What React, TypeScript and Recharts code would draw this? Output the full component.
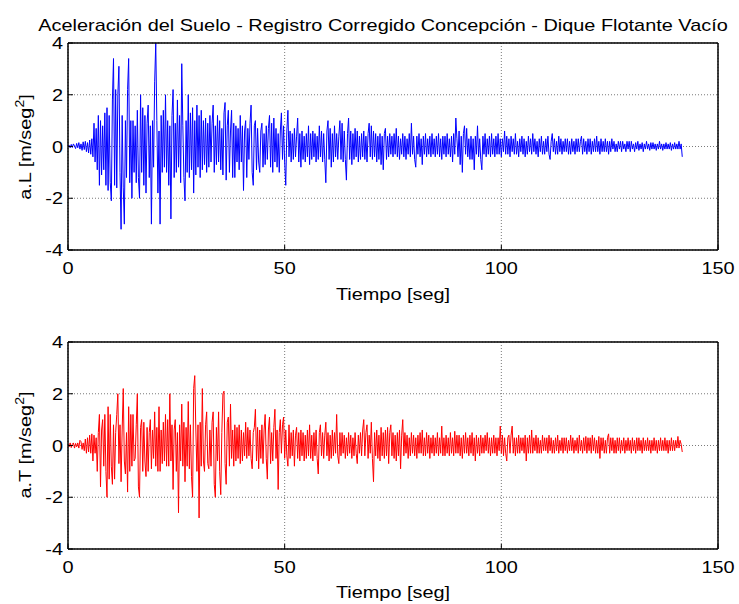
import React from 'react';
import { LineChart, Line, XAxis, YAxis, CartesianGrid } from 'recharts';

// sample step of the digitised record [s]
const DT = 0.25;
const X_TICKS = [0, 50, 100, 150];
const Y_TICKS = [-4, -2, 0, 2, 4];

// longitudinal ground acceleration [m/seg2], one row = 5 s
const accelL = [
  0, 0.05, -0.05, 0.08, -0.04, 0.1, 0.02, -0.08, 0.12, -0.05, 0.15, -0.1, 0.1, -0.15, 0.18, -0.12, 0.2, -0.2, 0.15, -0.25,
  0.25, -0.3, 0.3, -0.4, 0.9, -0.6, 0.7, -0.9, 1.2, -1.5, 1.0, -1.1, 0.8, -0.9, 1.3, -1.5, 1.5, -1.7, 1.2, -1.4,
  -2.1, 1.8, 3.4, -1.5, 2.2, -1.6, 2.0, 3.1, -1.0, -3.2, 1.2, -1.6, -3.0, 1.0, -1.2, 2.2, 3.4, -1.4, 1.0, -2.0,
  1.0, -1.0, 0.8, -1.4, 1.4, -1.2, -2.0, 2.0, -1.0, 1.5, -1.5, 1.2, -1.8, 0.9, 1.6, -1.2, 0.8, -3.0, 1.0, -0.8,
  2.5, 4.0, 1.0, -1.8, 0.6, -3.0, 1.2, -1.0, 1.4, -0.8, 2.0, -1.0, 1.0, -1.5, 0.8, -2.8, 1.2, 2.2, -1.2, 0.9,
  -1.0, 1.8, -0.8, 1.2, -1.4, 3.2, 0.8, -1.2, -2.1, 1.0, -1.0, 2.0, -1.2, 1.3, -0.9, 1.5, -1.8, 1.0, -1.1, 1.6,
  -0.8, 1.2, -1.2, 1.4, -0.9, 1.0, -0.7, 1.1, -1.0, 0.9, -0.8, 1.2, -0.6, 0.9, 1.6, -1.0, 0.8, -0.7, 1.2, -0.6,
  1.0, -0.9, 0.7, -1.1, 1.3, 1.7, -1.3, 0.8, 1.4, -1.0, 0.6, 1.4, -1.2, 0.9, -1.2, 0.8, -0.6, 0.7, -0.9, 1.2,
  -0.6, 0.8, -1.7, 0.6, 1.0, -1.2, 0.7, -0.5, 0.9, 1.6, -1.0, -1.5, 0.8, 1.0, -0.9, 0.7, -0.6, -1.0, 0.6, 0.9,
  -0.8, 0.5, -0.7, 0.8, -0.5, 0.7, 1.2, -0.8, 0.9, -1.0, 1.1, -0.6, 0.7, -0.8, 0.5, -1.0, 0.6, 1.3, -0.5, 0.8,
  -0.6, -1.5, 0.6, 1.4, -0.4, 0.6, -0.6, 0.5, -0.5, 0.7, -0.4, 0.4, 1.1, -0.6, 0.5, -0.8, 0.6, -0.5, 0.4, -0.6,
  0.5, -0.4, 0.8, -0.7, 0.5, -0.5, 0.6, -0.4, 0.5, -0.6, 0.4, -0.5, 0.8, -0.4, 0.6, -0.6, 0.5, -0.5, -1.4, 0.6,
  1.0, -0.5, 0.7, -0.8, 0.5, -0.6, 0.8, -0.4, 0.5, -0.5, 0.4, 1.0, -0.5, 0.9, -0.6, 0.6, -0.5, -1.3, 0.5, 1.1,
  -0.5, 0.6, -0.7, 0.5, -0.5, 0.7, -0.4, 0.6, -0.6, 0.4, -0.5, 0.5, -0.4, 0.6, -0.5, 0.4, -0.6, 0.5, 0.9, -0.4,
  0.8, -0.5, 0.6, -0.4, 0.5, -0.6, 0.4, -0.5, 0.5, -0.7, 0.4, -0.9, 0.5, 0.7, -0.5, 0.4, -0.4, 0.5, -0.3, 0.4,
  -0.4, 0.5, -0.3, 0.7, -0.4, 0.4, -0.5, 0.3, -0.3, 0.5, -0.4, 0.4, -0.5, 0.3, -0.3, 0.5, -0.4, 0.9, -0.3, 0.4,
  -0.5, -0.8, 0.4, -0.3, 0.5, -0.4, 0.3, -0.7, 0.4, -0.3, 0.5, -0.4, 0.3, -0.3, 0.4, -0.4, 0.5, -0.3, 0.3, -0.4,
  0.4, -0.3, 0.5, -0.4, 0.3, -0.5, 0.4, -0.3, 0.4, -0.4, 0.5, -0.3, 0.3, -0.4, 0.4, -0.6, 0.5, -0.3, 1.1, 0.3,
  -0.4, 0.6, -0.7, 0.4, -1.0, 0.5, 0.8, -0.3, 0.7, -0.4, 0.3, -0.5, 0.4, -0.5, 0.3, -0.9, 0.4, -0.3, 0.8, -0.4,
  0.3, -0.5, -0.9, 0.4, -0.3, 0.5, -0.4, 0.3, -0.3, 0.4, -0.4, 0.5, -0.3, 0.3, -0.4, 0.4, -0.3, 0.5, -0.3, 0.3,
  -0.4, 0.3, -0.2, 0.6, -0.3, 0.4, -0.3, 0.3, -0.4, 0.4, -0.2, 0.3, -0.3, 0.5, -0.3, 0.2, -0.4, 0.3, -0.2, 0.4,
  -0.3, 0.3, -0.4, 0.2, -0.3, 0.4, -0.2, 0.3, -0.3, 0.5, -0.2, 0.3, -0.3, 0.2, -0.4, 0.3, -0.2, 0.4, -0.3, 0.2,
  -0.3, 0.3, -0.2, 0.4, -0.3, -0.5, 0.2, 0.5, -0.2, 0.3, -0.3, 0.2, -0.3, 0.4, -0.2, 0.3, -0.3, 0.2, -0.2, 0.3,
  -0.2, 0.3, -0.3, 0.2, -0.3, 0.3, -0.2, 0.2, -0.3, 0.3, -0.2, 0.3, -0.2, 0.2, 0.4, -0.3, 0.3, -0.2, 0.2, -0.3,
  0.3, -0.2, 0.3, -0.3, 0.2, -0.2, 0.3, -0.2, 0.4, -0.2, 0.2, -0.3, 0.3, -0.2, 0.2, -0.2, 0.3, -0.2, 0.2, -0.3,
  0.2, -0.2, 0.3, -0.1, 0.2, -0.2, 0.1, -0.2, 0.2, -0.1, 0.2, -0.2, 0.2, -0.1, 0.1, -0.2, 0.2, -0.1, 0.2, -0.2,
  0.2, -0.1, 0.1, -0.2, 0.15, -0.1, 0.2, -0.15, 0.1, -0.1, 0.15, -0.2, 0.1, -0.1, 0.2, -0.1, 0.1, -0.15, 0.15, -0.1,
  0.15, -0.1, 0.1, -0.15, 0.1, -0.1, 0.2, -0.1, 0.1, -0.15, 0.1, -0.1, 0.15, -0.1, 0.1, -0.1, 0.15, -0.15, 0.1, -0.1,
  0.15, -0.1, 0.1, -0.1, 0.2, -0.1, 0.1, -0.4,
];

// transverse ground acceleration [m/seg2], one row = 5 s
const accelT = [
  0.05, -0.05, 0.1, -0.08, 0.05, 0.1, -0.1, 0.08, -0.05, 0.1, -0.1, 0.2, 0.15, -0.15, 0.1, -0.2, 0.25, -0.3, 0.3, -0.25,
  0.4, -0.3, 0.45, -0.6, 0.4, -0.3, 0.3, -1.0, 0.5, 1.2, -1.6, 0.6, 1.0, -0.8, 1.2, -1.0, -2.0, 1.5, -1.3, 1.2,
  -0.8, -1.5, 0.8, -1.3, 0.5, 1.2, 2.0, -0.7, 0.8, -1.4, 0.6, 2.2, -0.6, -1.1, 0.5, -1.8, 1.5, -1.0, 1.2, -0.8,
  1.2, -0.6, -0.5, 0.8, 2.0, -1.6, -2.0, 0.7, 1.0, -1.0, 0.9, -0.6, -1.2, 0.7, -1.0, 0.5, 1.0, -0.9, 0.6, -0.5,
  1.3, -0.8, 0.7, -1.0, 1.5, -1.0, 0.6, -0.7, 0.9, -0.6, 1.2, -0.8, 1.0, -0.8, 2.0, -0.6, 0.8, -1.7, 0.6, 1.0,
  -1.0, 0.5, -2.6, 0.8, -0.6, 1.6, -0.8, 0.9, -1.4, 0.7, -0.8, 1.7, -0.9, 0.8, -1.2, -2.0, 2.2, 2.7, 0.6, -1.0,
  0.8, -2.8, 0.9, -0.8, 2.2, -0.6, -1.0, 0.8, 1.3, -0.7, -0.9, 0.6, -0.8, 0.9, 1.3, -1.5, -2.0, 0.7, -0.6, 1.3,
  -1.0, -1.9, 0.5, 2.0, 2.1, -0.7, -1.5, 0.9, 1.1, -0.8, 1.6, -0.5, 0.6, -0.8, 0.8, -0.6, 0.7, -0.5, 0.8, -0.7,
  0.6, -0.6, 0.5, -0.4, 0.9, -0.5, 0.7, -0.4, 0.6, -0.5, -0.9, 0.5, 0.7, 1.4, -0.6, 0.7, -0.9, 0.6, -0.5, 0.8,
  -0.7, 0.6, 1.2, -0.5, -1.3, 0.6, 1.1, -0.7, 0.5, -0.6, 0.7, 1.4, -0.5, 0.6, -1.7, 0.5, 1.0, -0.3, 0.8, 1.1,
  -0.5, 0.6, -0.4, -0.8, 0.8, -0.5, 0.5, -0.4, 0.6, -0.8, 0.4, 0.7, -0.5, 0.5, -0.6, 0.6, -0.4, 0.5, -0.6, 0.4,
  -0.5, 0.6, -0.4, 0.8, -0.5, 0.4, -0.6, 0.5, -0.4, 0.6, -0.5, -1.1, 0.5, 0.8, -0.4, 0.5, -0.5, 0.4, 0.9, -0.4,
  0.5, -0.6, 0.4, -0.5, 0.6, -0.4, 0.5, -0.3, 1.2, -0.4, -0.7, 0.5, -0.4, 0.5, -0.3, 0.4, -0.5, 0.3, -0.4, 0.5,
  -0.3, 0.4, -0.5, 0.3, -0.4, 0.5, -0.3, -0.7, 0.4, -0.3, 0.5, -0.4, 0.6, 1.0, -0.4, 0.5, 0.8, -0.5, 0.4, -0.3,
  0.9, -0.5, -1.4, 0.5, -0.4, 0.6, -0.5, 0.4, -0.6, 0.7, -0.4, 0.5, -0.5, 0.6, -0.4, 0.7, -0.7, 0.5, 0.8, -0.4,
  0.5, -0.5, 0.4, -0.6, 0.5, -0.4, 0.6, -0.9, 0.4, 1.0, -0.4, 0.5, -0.3, 0.4, -0.5, 0.3, -0.4, 0.5, -0.3, 0.4,
  -0.4, 0.3, -0.5, 0.4, -0.3, 0.5, -0.3, 0.6, -0.4, 0.3, -0.4, 0.5, -0.3, 0.4, -0.5, 0.3, -0.3, 0.4, -0.4, 0.3,
  -0.3, 0.5, -0.4, 0.3, -0.3, 0.75, -0.4, 0.3, -0.4, 0.4, -0.3, 0.3, -0.4, 0.5, -0.3, 0.3, -0.4, 0.55, -0.3, 0.4,
  -0.3, 0.4, -0.4, 0.3, -0.5, 0.4, -0.3, 0.5, -0.3, 0.3, -0.4, 0.4, -0.3, 0.5, -0.4, 0.3, -0.6, 0.4, -0.3, 0.3,
  -0.4, 0.4, -0.3, 0.3, -0.3, 0.4, -0.2, 0.5, -0.3, 0.3, -0.4, 0.3, -0.3, 0.4, -0.3, 0.3, -0.4, 0.3, -0.2, 0.75,
  -0.3, 0.4, -0.4, 0.3, -0.3, -0.6, 0.3, 0.4, -0.3, 0.4, 0.75, -0.3, 0.3, -0.4, 0.3, -0.3, 0.4, -0.3, 0.3, -0.2,
  0.3, -0.3, 0.4, -0.6, 0.3, -0.3, 0.4, -0.3, 0.6, -0.3, 0.3, -0.2, 0.4, -0.3, 0.3, -0.3, 0.2, -0.3, 0.4, -0.2,
  0.3, -0.2, 0.3, -0.3, 0.4, -0.2, 0.3, -0.3, 0.2, -0.3, 0.3, -0.2, 0.4, -0.3, 0.2, -0.2, 0.3, -0.3, 0.3, -0.2,
  0.3, -0.3, 0.2, -0.2, 0.4, -0.2, 0.3, -0.3, 0.2, -0.2, 0.3, -0.3, 0.4, -0.2, 0.2, -0.3, 0.3, -0.2, 0.35, -0.3,
  0.3, -0.2, 0.3, -0.3, 0.4, -0.2, 0.3, -0.3, 0.2, -0.3, 0.35, -0.5, 0.3, -0.2, 0.3, -0.3, 0.2, -0.3, 0.3, 0.45,
  -0.3, 0.3, -0.2, 0.3, -0.3, 0.2, -0.3, 0.3, -0.2, 0.3, -0.3, 0.2, -0.2, 0.3, -0.3, 0.2, -0.2, 0.3, -0.2, 0.2,
  -0.3, 0.3, -0.2, 0.2, -0.3, 0.3, -0.2, 0.3, -0.2, 0.2, -0.3, 0.3, -0.2, 0.2, -0.2, 0.3, -0.2, 0.2, -0.3, 0.2,
  -0.2, 0.3, -0.2, 0.2, -0.3, 0.2, -0.2, 0.3, -0.2, 0.2, -0.2, 0.3, -0.2, 0.2, -0.3, 0.2, -0.2, 0.3, -0.2, 0.2,
  -0.2, 0.2, -0.1, 0.35, -0.1, 0.2, 0.05, -0.25,
];

const FONT = 'Arial, "Liberation Sans", Helvetica, sans-serif';
const FS = 17;
const STRETCH = 1.17;

const toRows = (vals: number[]) => vals.map((a, i) => ({ t: i * DT, a }));

const XTick = (props: any) => {
  const { x, y, payload } = props;
  return (
    <text
      transform={`translate(${x},${y}) scale(${STRETCH},1)`}
      textAnchor="middle"
      dy="0.71em"
      fontSize={FS}
      fontFamily={FONT}
      fill="#000"
    >
      {payload.value}
    </text>
  );
};

const YTick = (props: any) => {
  const { x, y, payload } = props;
  return (
    <text
      transform={`translate(${x},${y}) scale(${STRETCH},1)`}
      textAnchor="end"
      dy="0.36em"
      fontSize={FS}
      fontFamily={FONT}
      fill="#000"
    >
      {payload.value}
    </text>
  );
};

function Panel({ values, color, top }: { values: number[]; color: string; top: number }) {
  const data = toRows(values);
  return (
    <div style={{ position: 'absolute', left: 0, top }}>
      <LineChart width={739} height={310} data={data} margin={{ top: 42, right: 20, bottom: 0, left: 0 }}>
        <CartesianGrid stroke="#7a7a7a" strokeDasharray="1 2" />
        <XAxis
          dataKey="t"
          type="number"
          domain={[0, 150]}
          ticks={X_TICKS}
          allowDataOverflow
          height={60}
          tickSize={-5}
          tickMargin={17}
          tick={<XTick />}
          axisLine={{ stroke: '#000', strokeWidth: 1.5 }}
          tickLine={{ stroke: '#000' }}
        />
        <XAxis
          xAxisId="top"
          orientation="top"
          type="number"
          domain={[0, 150]}
          ticks={X_TICKS}
          height={1}
          tickSize={-5}
          tick={false}
          axisLine={{ stroke: '#000', strokeWidth: 1.5 }}
          tickLine={{ stroke: '#000' }}
        />
        <YAxis
          type="number"
          domain={[-4, 4]}
          ticks={Y_TICKS}
          allowDataOverflow
          width={68}
          tickSize={-5}
          tickMargin={10}
          tick={<YTick />}
          axisLine={{ stroke: '#000', strokeWidth: 1.5 }}
          tickLine={{ stroke: '#000' }}
        />
        <YAxis
          yAxisId="right"
          orientation="right"
          type="number"
          domain={[-4, 4]}
          ticks={Y_TICKS}
          width={1}
          tickSize={-5}
          tick={false}
          axisLine={{ stroke: '#000', strokeWidth: 1.5 }}
          tickLine={{ stroke: '#000' }}
        />
        <Line
          type="linear"
          dataKey="a"
          stroke={color}
          strokeWidth={1}
          dot={false}
          activeDot={false}
          isAnimationActive={false}
        />
      </LineChart>
    </div>
  );
}

function AxisTexts({ dy, name }: { dy: number; name: string }) {
  return (
    <g fontFamily={FONT} fontSize={FS} fill="#000">
      <text transform={`translate(31,${147 + dy}) rotate(-90) scale(${STRETCH},1)`} textAnchor="middle">
        <tspan>{`${name} [m/seg`}</tspan>
        <tspan dy={-7} fontSize={12}>2</tspan>
        <tspan dy={7}>]</tspan>
      </text>
      <text transform={`translate(393,${300 + dy}) scale(${STRETCH},1)`} textAnchor="middle">
        Tiempo [seg]
      </text>
    </g>
  );
}

export default function App() {
  return (
    <div
      style={{
        position: 'absolute',
        left: 0,
        top: 0,
        width: 739,
        height: 604,
        overflow: 'hidden',
        background: '#fff',
      }}
    >
      <Panel values={accelL} color="#0000ff" top={0} />
      <Panel values={accelT} color="#ff0000" top={299} />
      <svg
        width={739}
        height={604}
        style={{ position: 'absolute', left: 0, top: 0, pointerEvents: 'none' }}
      >
        <text
          transform={`translate(383,31) scale(${STRETCH},1)`}
          textAnchor="middle"
          fontFamily={FONT}
          fontSize={FS}
          fill="#000"
        >
          Aceleración del Suelo - Registro Corregido Concepción - Dique Flotante Vacío
        </text>
        <AxisTexts dy={0} name="a.L" />
        <AxisTexts dy={298} name="a.T" />
      </svg>
    </div>
  );
}
